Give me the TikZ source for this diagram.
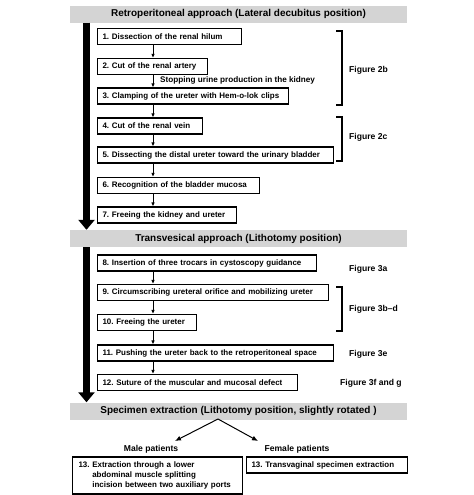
\documentclass[tikz,border=0pt]{standalone}
\usepackage{fontspec}
\setmainfont{Liberation Sans}
\usetikzlibrary{arrows.meta}
\frenchspacing
\tikzset{
  stepbox/.style={draw,line width=1.1bp,anchor=west,align=left,inner xsep=5bp,inner ysep=0bp,
    minimum height=16bp,text width=#1,font=\fontsize{8}{10}\selectfont\bfseries},
  band/.style={fill=black!17,draw=none,minimum width=337bp,minimum height=17bp,
    font=\fontsize{10}{11}\selectfont\bfseries},
  figlabel/.style={anchor=west,inner sep=0bp,font=\fontsize{8.6}{10}\selectfont\bfseries},
  flow/.style={->,line width=0.8bp,>={Latex[length=4bp,width=3.5bp]}},
  spinearrow/.style={line width=7bp,-{Triangle[length=10bp,width=16bp]}},
  bracket/.style={line width=1.1bp},
}
\begin{document}
\begin{tikzpicture}[yscale=-1]
\useasboundingbox (0bp,0bp) rectangle (474bp,495bp);
%%
\node (band_1) at (238.5bp,14bp) [band] {Retroperitoneal approach (Lateral decubitus position)};
  \node (step_1) at (97bp,36.5bp) [stepbox=134bp] {1. Dissection of the renal hilum};
  \node (step_2) at (97bp,66.5bp) [stepbox=100bp] {2. Cut of the renal artery};
  \node (step_3) at (97bp,96bp) [stepbox=181bp] {3. Clamping of the ureter with Hem-o-lok clips};
  \node (step_4) at (97bp,126bp) [stepbox=95bp] {4. Cut of the renal vein};
  \node (step_5) at (97bp,155bp) [stepbox=226bp] {5. Dissecting the distal ureter toward the urinary bladder};
  \node (step_6) at (97bp,185.5bp) [stepbox=152bp] {6. Recognition of the bladder mucosa};
  \node (step_7) at (97bp,215bp) [stepbox=129bp] {7. Freeing the kidney and ureter};
  \node (note_1) at (160bp,80.5bp) [figlabel,font=\fontsize{8.2}{10}\selectfont\bfseries] {Stopping urine production in the kidney};
\node (band_2) at (238.5bp,238.5bp) [band] {Transvesical approach (Lithotomy position)};
  \node (step_8) at (97bp,263bp) [stepbox=209bp] {8. Insertion of three trocars in cystoscopy guidance};
  \node (step_9) at (97bp,292.5bp) [stepbox=221bp] {9. Circumscribing ureteral orifice and mobilizing ureter};
  \node (step_10) at (97bp,322.5bp) [stepbox=89bp] {10. Freeing the ureter};
  \node (step_11) at (97bp,353bp) [stepbox=226bp] {11. Pushing the ureter back to the retroperitoneal space};
  \node (step_12) at (97bp,382.5bp) [stepbox=190bp] {12. Suture of the muscular and mucosal defect};
\node (band_3) at (238.5bp,411bp) [band] {Specimen extraction (Lithotomy position, slightly rotated )};
  \node (male) at (151bp,449bp) [figlabel,anchor=center] {Male patients};
  \node (female) at (297bp,449bp) [figlabel,anchor=center] {Female patients};
  \node (step_13a) at (72bp,475.5bp) [stepbox=158bp,minimum height=37bp,inner xsep=6bp] {13. Extraction through a lower\\\phantom{13. }abdominal muscle splitting\\\phantom{13. }incision between two auxiliary ports};
  \node (step_13b) at (246bp,465bp) [stepbox=151bp] {13. Transvaginal specimen extraction};
%% figure labels
  \node (fig_2b) at (349bp,70bp) [figlabel] {Figure 2b};
  \node (fig_2c) at (349bp,137bp) [figlabel] {Figure 2c};
  \node (fig_3a) at (349bp,269bp) [figlabel] {Figure 3a};
  \node (fig_3bd) at (349bp,309bp) [figlabel] {Figure 3b--d};
  \node (fig_3e) at (349bp,354bp) [figlabel] {Figure 3e};
  \node (fig_3fg) at (340bp,383bp) [figlabel] {Figure 3f and g};
  \draw [bracket] (336bp,31bp) -- (342bp,31bp) -- (342bp,105bp) -- (336bp,105bp);
  \draw [bracket] (336bp,117bp) -- (342bp,117bp) -- (342bp,161bp) -- (336bp,161bp);
  \draw [bracket] (336bp,287bp) -- (342bp,287bp) -- (342bp,331bp) -- (336bp,331bp);
%% connectors
  \coordinate (spine) at (153bp,0bp);
  \coordinate (bar) at (86.5bp,0bp);
  \foreach \a/\b in {1/2,2/3,3/4,4/5,5/6,6/7,8/9,9/10,10/11,11/12}
    \draw [flow] (step_\a.south -| spine) -- (step_\b.north -| spine);
  \draw [spinearrow] (band_1.south -| bar) -- (band_2.north -| bar);
  \draw [spinearrow] (band_2.south -| bar) -- (band_3.north -| bar);
  \coordinate (fork) at (218bp,419bp);
  \coordinate (male_end) at (175bp,441bp);
  \coordinate (female_end) at (258bp,441bp);
  \draw [flow,line width=1bp,>={Latex[length=6bp,width=5bp]}] (fork) -- (male_end);
  \draw [flow,line width=1bp,>={Latex[length=6bp,width=5bp]}] (fork) -- (female_end);
%
\end{tikzpicture}
\end{document}
